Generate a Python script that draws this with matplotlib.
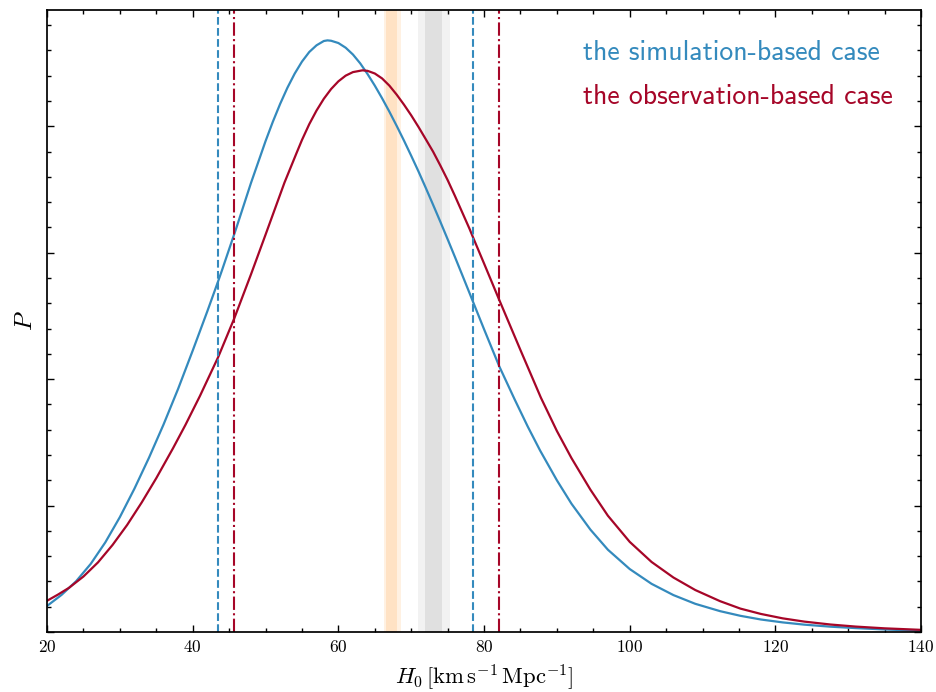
import numpy as np
import matplotlib
matplotlib.use("Agg")
import matplotlib.pyplot as plt
from matplotlib.ticker import MultipleLocator, NullFormatter

plt.rcParams['font.family'] = 'serif'
plt.rcParams['font.serif'] = ['cmr10']
plt.rcParams['mathtext.fontset'] = 'cm'
plt.rcParams['axes.formatter.use_mathtext'] = True

# posterior of H0 (y in arbitrary density units)
h_sim = [20, 22, 24, 26, 28, 30, 32, 34, 36, 38, 40, 42, 43.5, 44, 46, 48, 49.5,
         50, 51, 52, 53, 54, 55, 56, 57, 58, 58.5, 59, 60, 61, 62, 63, 64, 65, 66,
         67, 68, 69, 70, 71, 72, 73, 74, 75, 76, 77, 78, 78.5, 80, 82.1, 84.2, 86,
         87.7, 90, 92, 94.6, 97, 100, 103, 106, 109, 112.4, 115.2, 118, 121, 124,
         127.6, 131, 135, 140]
p_sim = [0.206, 0.294, 0.402, 0.539, 0.709, 0.909, 1.134, 1.379, 1.642, 1.924, 2.226,
         2.536, 2.776, 2.858, 3.198, 3.552, 3.80, 3.883, 4.036, 4.177, 4.305, 4.417,
         4.512, 4.588, 4.641, 4.675, 4.68, 4.677, 4.659, 4.622, 4.568, 4.498, 4.414,
         4.322, 4.222, 4.116, 4.004, 3.888, 3.767, 3.643, 3.513, 3.38, 3.245, 3.107,
         2.967, 2.825, 2.682, 2.61, 2.395, 2.1, 1.84, 1.625, 1.435, 1.2, 1.015, 0.81,
         0.651, 0.498, 0.381, 0.292, 0.223, 0.165, 0.128, 0.099, 0.076, 0.058, 0.042,
         0.031, 0.02, 0.01]

h_obs = [20, 21.5, 23, 25, 27, 29, 31, 33, 35, 37.3, 39, 41, 43.5, 45.7, 48, 50,
         52.6, 54.3, 55, 56, 57, 58, 59, 60, 61, 62, 63.3, 64, 65, 66, 67, 68, 69,
         70, 71, 72, 73, 74, 75, 76, 77, 78, 78.5, 80, 82.1, 85, 87.8, 90, 92, 94.6,
         97, 100, 103, 106, 109, 112.4, 115.2, 118, 121, 124, 127.6, 131, 135, 140]
p_obs = [0.247, 0.296, 0.349, 0.439, 0.551, 0.689, 0.847, 1.025, 1.217, 1.454, 1.638,
         1.868, 2.175, 2.48, 2.829, 3.143, 3.555, 3.795, 3.892, 4.017, 4.125, 4.218,
         4.295, 4.356, 4.401, 4.429, 4.443, 4.439, 4.418, 4.379, 4.322, 4.251, 4.172,
         4.087, 3.995, 3.898, 3.80, 3.69, 3.575, 3.45, 3.32, 3.19, 3.12, 2.915, 2.625,
         2.23, 1.854, 1.59, 1.376, 1.126, 0.92, 0.713, 0.554, 0.431, 0.332, 0.244,
         0.185, 0.143, 0.108, 0.082, 0.059, 0.043, 0.029, 0.017]

# credible interval bounds
ci_sim = [43.5, 78.5]
ci_obs = [45.7, 82.1]

# Planck and SH0ES bands (inner, outer)
planck_in = [66.6, 68.1]
planck_out = [66.2, 68.6]
shoes_in = [71.95, 74.2]
shoes_out = [70.95, 75.3]

c_sim = '#348ABD'
c_obs = '#A60628'

fig = plt.figure(figsize=(9.37, 6.92), dpi=100)
ax = fig.add_axes([0.0502, 0.0867, 0.9328, 0.8988])

ax.axvspan(*planck_out, color='#FFF1E2', lw=0, zorder=0)
ax.axvspan(*planck_in, color='#FFE2C4', lw=0, zorder=0)
ax.axvspan(*shoes_out, color='#F2F2F2', lw=0, zorder=0)
ax.axvspan(*shoes_in, color='#E0E0E0', lw=0, zorder=0)

ax.plot(h_sim, p_sim, color=c_sim, lw=1.6)
ax.plot(h_obs, p_obs, color=c_obs, lw=1.6)
for x in ci_sim:
    ax.axvline(x, color=c_sim, ls='--', lw=1.5)
for x in ci_obs:
    ax.axvline(x, color=c_obs, ls='-.', lw=1.5)

ax.set_xlim(20, 140)
ax.set_ylim(0, 4.92)
ax.xaxis.set_major_locator(MultipleLocator(20))
ax.xaxis.set_minor_locator(MultipleLocator(5))
ax.yaxis.set_major_locator(MultipleLocator(1))
ax.yaxis.set_minor_locator(MultipleLocator(0.2))
ax.yaxis.set_major_formatter(NullFormatter())
ax.tick_params(which='both', direction='in', top=True, right=True, width=1)
ax.tick_params(which='major', length=5, labelsize=12.5, pad=5)
ax.tick_params(which='minor', length=3)
for s in ax.spines.values():
    s.set_linewidth(1.25)

ax.set_xlabel(r'$H_0\,[\mathrm{km\,s^{-1}\,Mpc^{-1}}]$', fontsize=16.3, labelpad=6)
ax.set_ylabel(r'$P$', fontsize=18, labelpad=2)

ax.text(0.613, 0.9325, 'the simulation-based case', color=c_sim, fontsize=20,
        family='cmss10', transform=ax.transAxes, va='center')
ax.text(0.613, 0.8617, 'the observation-based case', color=c_obs, fontsize=20,
        family='cmss10', transform=ax.transAxes, va='center')

fig.savefig('out.png', dpi=100)
